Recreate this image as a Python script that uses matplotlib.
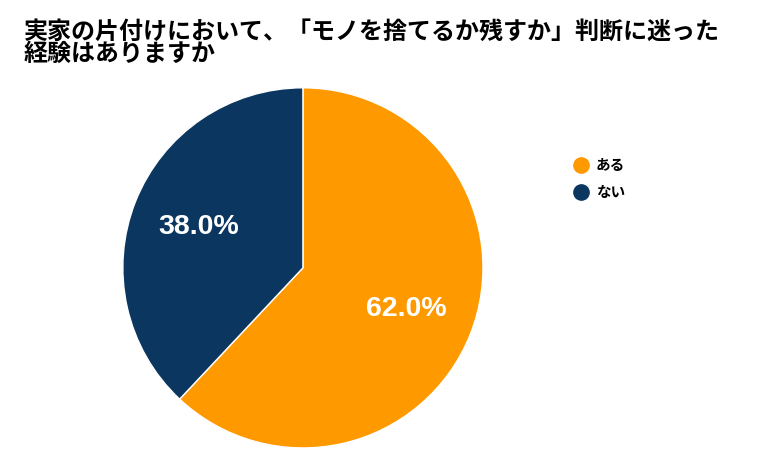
import matplotlib.pyplot as plt
from matplotlib.lines import Line2D

plt.rcParams['font.family'] = ['Noto Sans CJK JP', 'DejaVu Sans']

# Data
labels = ["ある", "ない"]
values = [62.0, 38.0]
colors = ["#FF9900", "#0B365F"]
title = "実家の片付けにおいて、「モノを捨てるか残すか」判断に迷った\n経験はありますか"

fig = plt.figure(figsize=(7.63, 4.72), dpi=100)
ax = fig.add_axes([0.161, 0.051, 0.472, 0.763])

wedges, texts, autotexts = ax.pie(
    values, colors=colors, startangle=90, counterclock=False,
    autopct="%.1f%%", pctdistance=0.62,
    wedgeprops=dict(edgecolor="white", linewidth=1),
    textprops=dict(color="white", fontsize=20.5, fontweight="bold", family=["Liberation Sans", "DejaVu Sans"]),
)
ax.set_xlim(-1, 1)
ax.set_ylim(-1, 1)
ax.set_aspect("equal")

fig.text(0.031, 0.958, title, ha="left", va="top", fontsize=17.3, fontweight="bold",
         linespacing=0.9, color="#000000")

handles = [Line2D([0], [0], marker="o", color="none", markerfacecolor=c, markeredgecolor=c,
                  markersize=11) for c in colors]
fig.legend(handles, labels, loc="upper left", bbox_to_anchor=(0.735, 0.695), frameon=False,
           prop=dict(size=10.5, weight="bold"), handletextpad=0.5, labelspacing=0.75,
           handlelength=1.0)

fig.savefig("out.png", dpi=100)
